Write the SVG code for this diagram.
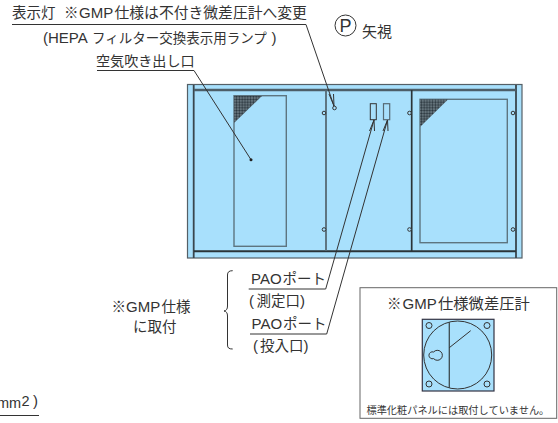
<svg xmlns="http://www.w3.org/2000/svg" width="558" height="423" viewBox="0 0 558 423">
<style>
text{font-family:"Liberation Sans","Noto Sans CJK JP",sans-serif;font-size:14.500px;fill:#333}
.a{font-size:15px}
.s{font-size:10.200px}
.l{fill:none;stroke:#333;stroke-width:1}
.f{fill:none;stroke:#5d7580;stroke-width:1.400}
.h{fill:#a8e0fc;stroke:#333;stroke-width:1}
</style>
<defs><pattern id="dots" width="2.800" height="2.800" patternUnits="userSpaceOnUse"><rect width="2.800" height="2.800" fill="#77878f"/><circle cx="1.400" cy="1.400" r="1.100" fill="#27323a"/></pattern></defs>
<g id="cabinet">
<rect x="187.500" y="84.500" width="334.500" height="173.500" fill="#a8e0fc" stroke="#555f66" stroke-width="1.200"/>
<path d="M193.700 85V258" fill="none" stroke="#39464d" stroke-width="1.800"/>
<path d="M516 85V258" fill="none" stroke="#39464d" stroke-width="1.800"/>
<path d="M194 90H516" fill="none" stroke="#4d5e68" stroke-width="2.400"/>
<path d="M194 251.300H516" fill="none" stroke="#2a3438" stroke-width="2"/>
<path d="M326 90V251" fill="none" stroke="#566a74" stroke-width="1.800"/>
<path d="M411.700 90V251" fill="none" stroke="#2a3438" stroke-width="1.700"/>
</g>
<g id="panel-left">
<rect class="f" x="234" y="95.700" width="52.300" height="150.600"/>
<path d="M234 96H262L234 123Z" fill="url(#dots)"/>
</g>
<g id="panel-right">
<rect class="f" x="420" y="99.300" width="87.300" height="143.400"/>
<path d="M420 99.500H448L420 127Z" fill="url(#dots)"/>
</g>
<g id="screws">
<circle class="h" cx="324" cy="113" r="1.800"/><circle class="h" cx="409.500" cy="113" r="1.800"/><circle class="h" cx="513" cy="113" r="1.800"/>
<circle class="h" cx="324" cy="229.500" r="1.800"/><circle class="h" cx="409.500" cy="229.500" r="1.800"/><circle class="h" cx="513" cy="229.500" r="1.800"/>
</g>
<g id="lamp"><circle class="h" cx="334.500" cy="108" r="1.800"/></g>
<g id="ports">
<rect x="370.300" y="103.700" width="6" height="16" fill="#a8e0fc" stroke="#333" stroke-width="1"/>
<rect x="383.500" y="103.700" width="6.200" height="16" fill="#a8e0fc" stroke="#566a74" stroke-width="1.200"/>
</g>
<g id="connectors">
<path class="l" d="M12 24.500H306L334 106"/>
<path class="l" d="M329 94L334 106L333.500 94"/>
<path class="l" d="M97 70.500H194L251 159.700"/>
<circle cx="251" cy="159.700" r="1.500" fill="#222"/>
<path class="l" d="M248.700 289H325.700L374 120"/>
<path class="l" d="M369.500 131L374 120L374.500 131"/>
<path class="l" d="M250 334H326.700L387.500 120"/>
<path class="l" d="M383 131L387.500 120L388 131"/>
<path class="l" d="M232.700 270.700C229 270.700 227.500 272 227.500 275V306C227.500 309 226.500 310.500 224 311C226.500 311.500 227.500 313 227.500 316V345C227.500 348 229 349 232.700 349"/>
</g>
<g id="label-lamp"><text y="18"><tspan x="12">表示灯</tspan><tspan x="64">※</tspan><tspan class="a" x="79">GMP</tspan><tspan style="font-size:14.800px" x="114.500">仕様は不付き微差圧計へ変更</tspan></text></g>
<g id="label-lamp-2"><text y="43"><tspan class="a" x="43">(HEPA</tspan><tspan style="font-size:13.500px" x="92">フィルター交換表示用ランプ</tspan><tspan class="a" x="271.500">)</tspan></text></g>
<g id="label-outlet"><text x="96" y="66" style="font-size:14.100px">空気吹き出し口</text></g>
<g id="view-p"><circle cx="345.500" cy="25.500" r="10.500" fill="none" stroke="#333" stroke-width="1"/><text x="339.500" y="32" style="font-size:18px">P</text><text x="362" y="37" style="font-size:15px">矢視</text></g>
<g id="label-gmp"><text y="311.500"><tspan x="111.500">※</tspan><tspan class="a" x="126">GMP</tspan><tspan x="161.500">仕様</tspan></text><text x="133" y="332">に取付</text></g>
<g id="label-pao1"><text y="284"><tspan class="a" x="251">PAO</tspan><tspan x="282.500">ポート</tspan></text><text y="305.500"><tspan class="a" x="249">(</tspan><tspan x="256.500">測定口</tspan><tspan class="a" x="300">)</tspan></text></g>
<g id="label-pao2"><text y="328.500"><tspan class="a" x="251.500">PAO</tspan><tspan x="283">ポート</tspan></text><text y="350.500"><tspan class="a" x="253">(</tspan><tspan x="260">投入口</tspan><tspan class="a" x="303.500">)</tspan></text></g>
<g id="meter-box">
<rect x="360" y="287.700" width="196.700" height="130.600" fill="#fff" stroke="#666" stroke-width="1"/>
<text y="309"><tspan x="387">※</tspan><tspan class="a" x="402.500">GMP</tspan><tspan style="font-size:15.300px" x="438">仕様微差圧計</tspan></text>
<text class="s" x="366.500" y="414">標準化粧パネルには取付していません。</text>
<g id="meter">
<rect x="422.300" y="319.300" width="71.700" height="71.700" fill="#a8e0fc" stroke="#334" stroke-width="1.200"/>
<circle class="l" cx="457.700" cy="355" r="34"/>
<path d="M449.300 322V388" fill="none" stroke="#3d4a50" stroke-width="1.300"/>
<path class="l" d="M449.300 347.700L470.700 330.700"/>
<circle class="l" cx="429" cy="325.500" r="3"/><circle class="l" cx="487" cy="325.500" r="3"/><circle class="l" cx="429" cy="384" r="3"/><circle class="l" cx="487" cy="384" r="3"/>
<path class="l" d="M433.600 352A5 5 0 1 1 433.600 358.600A3.500 3.500 0 1 1 433.600 352Z"/>
</g>
</g>
<g id="label-unit"><text y="408"><tspan x="-3">mm</tspan><tspan x="21.500" y="405.500">2</tspan><tspan class="a" x="33" y="406">)</tspan></text><path d="M0 415.500H39" class="l"/></g>
</svg>
